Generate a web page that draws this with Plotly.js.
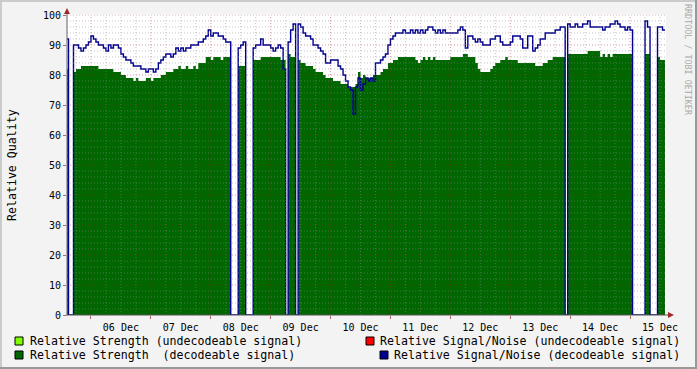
<!DOCTYPE html>
<html>
<head>
<meta charset="utf-8">
<script src="https://cdn.plot.ly/plotly-3.0.1.min.js"></script>
<style>html,body{margin:0;padding:0;background:#f3f3f3;}#chart{width:697px;height:369px;}</style>
</head>
<body>
<div id="chart"></div>
<script>
// Hourly samples starting 2007-12-05 14:00
const seriesStart = [2007, 11, 5, 14, 0];
const stepHours = 1;

// Relative Strength (decodeable signal)
const strength = [
82,0,0,81,82,82,83,83,83,83,
83,83,83,82,82,82,82,82,82,81,
81,81,80,80,79,79,79,78,79,78,
78,78,79,79,78,79,79,79,80,80,
81,81,81,82,82,83,82,82,83,82,
82,83,82,84,84,84,86,86,85,86,
86,86,85,86,86,86,0,0,0,83,
83,83,0,0,0,85,85,85,86,86,
86,86,86,86,86,86,85,85,0,87,
86,86,0,85,84,84,83,83,83,82,
81,81,81,80,79,79,79,78,78,78,
77,77,77,76,76,76,77,81,79,80,
79,79,79,80,80,80,81,82,82,84,
84,85,85,86,86,86,86,86,86,86,
85,84,85,86,85,86,85,86,85,85,
85,85,85,85,86,86,86,86,86,87,
87,86,86,86,84,82,81,81,81,81,
82,83,84,84,85,85,86,85,85,85,
85,84,84,84,84,84,84,84,83,83,
83,84,84,85,85,86,86,86,86,86,
0,87,87,87,87,87,87,87,87,88,
88,88,88,88,86,87,86,87,86,87,
87,87,87,87,87,87,87,0,0,0,
0,0,87,87,0,0,0,86,85,85,
85];

// Relative Signal/Noise (decodeable signal)
const snr = [
92,0,0,90,90,89,88,89,90,91,
93,92,91,90,90,89,88,90,89,90,
90,89,87,86,85,85,84,83,83,83,
82,82,81,82,82,81,82,84,85,86,
87,87,86,87,89,88,89,88,89,89,
90,90,90,91,91,92,93,95,93,94,
94,93,93,92,91,91,0,0,0,89,
90,91,0,0,0,89,90,90,92,90,
90,90,89,88,89,90,89,82,0,91,
95,97,0,97,96,94,93,93,92,90,
90,89,88,87,84,84,85,85,85,83,
82,80,78,76,75,67,76,79,75,77,
79,78,79,78,84,84,85,86,87,90,
92,93,94,94,94,95,94,94,95,94,
95,94,95,94,95,96,96,95,94,95,
94,95,94,94,94,94,94,95,96,95,
89,93,93,92,91,92,91,90,90,90,
92,92,93,93,91,90,90,90,91,93,
93,93,92,89,89,93,93,88,89,90,
92,92,94,94,94,94,95,95,96,96,
0,97,96,96,97,96,96,97,97,98,
96,96,96,96,96,95,96,96,97,97,
98,97,96,96,95,96,95,0,0,0,
0,0,98,96,0,0,0,96,96,95,
95];

const yTicks = [0,10,20,30,40,50,60,70,80,90,100];
const legendLabels = [
  "Relative Strength (undecodeable signal)",
  "Relative Strength\u00A0 (decodeable signal)",
  "Relative Signal/Noise (undecodeable signal)",
  "Relative Signal/Noise (decodeable signal)"
];
const legendColors = ["#80ff00", "#006600", "#ff0000", "#000090"];

function fmt(ms) {
  const d = new Date(ms);
  const p = n => String(n).padStart(2, '0');
  return d.getUTCFullYear() + '-' + p(d.getUTCMonth() + 1) + '-' + p(d.getUTCDate()) + ' ' + p(d.getUTCHours()) + ':' + p(d.getUTCMinutes());
}
const H = 3600000;
const startMs = Date.UTC.apply(null, seriesStart);
const times = strength.map((_, i) => fmt(startMs + i * stepHours * H));
const rangeStart = Date.UTC(2007, 11, 5, 14, 24);
const rangeEnd = Date.UTC(2007, 11, 15, 14, 24);

// pixel helpers (plot area 67..666 x 15..315)
const L = 67, R = 666, T = 15, B = 315;
const px = v => (v - L) / (R - L);
const py = v => (B - v) / (B - T);

const shapes = [];
const minorCol = 'rgba(140,140,140,0.5)';
const majorCol = 'rgba(150,40,40,0.45)';
const dot = '1px,2px';
for (let t = Date.UTC(2007, 11, 5, 18); t < rangeEnd; t += 6 * H) {
  const major = new Date(t).getUTCHours() === 0;
  shapes.push({type: 'line', xref: 'x', yref: 'paper', x0: fmt(t), x1: fmt(t), y0: 0, y1: 1,
    line: {color: major ? majorCol : minorCol, width: 1, dash: dot}, layer: 'above'});
}
for (let v = 2; v <= 100; v += 2) {
  const major = v % 10 === 0;
  shapes.push({type: 'line', xref: 'paper', yref: 'y', x0: 0, x1: 1, y0: v, y1: v,
    line: {color: major ? majorCol : minorCol, width: 1, dash: dot}, layer: 'above'});
}
// axis lines and arrows
shapes.push({type: 'line', xref: 'paper', yref: 'paper', x0: px(67), x1: px(67), y0: py(315), y1: py(11), line: {color: '#666', width: 1}, layer: 'above'});
shapes.push({type: 'line', xref: 'paper', yref: 'paper', x0: px(66), x1: px(670), y0: py(315), y1: py(315), line: {color: '#555', width: 1}, layer: 'above'});
shapes.push({type: 'path', xref: 'paper', yref: 'paper',
  path: `M ${px(64)} ${py(14)} L ${px(70)} ${py(14)} L ${px(67)} ${py(8)} Z`,
  fillcolor: '#a02828', line: {width: 0}, layer: 'above'});
shapes.push({type: 'path', xref: 'paper', yref: 'paper',
  path: `M ${px(668)} ${py(312)} L ${px(668)} ${py(318)} L ${px(674)} ${py(315)} Z`,
  fillcolor: '#a02828', line: {width: 0}, layer: 'above'});
// frame
shapes.push({type: 'rect', xref: 'paper', yref: 'paper', x0: px(0), x1: px(697), y0: py(0), y1: py(2), fillcolor: '#cbcbcb', line: {width: 0}});
shapes.push({type: 'rect', xref: 'paper', yref: 'paper', x0: px(0), x1: px(2), y0: py(0), y1: py(369), fillcolor: '#cbcbcb', line: {width: 0}});
shapes.push({type: 'rect', xref: 'paper', yref: 'paper', x0: px(695), x1: px(697), y0: py(0), y1: py(369), fillcolor: '#999999', line: {width: 0}});
shapes.push({type: 'rect', xref: 'paper', yref: 'paper', x0: px(0), x1: px(697), y0: py(367), y1: py(369), fillcolor: '#999999', line: {width: 0}});

// legend squares
const legendPos = [[15, 341], [15, 355], [366, 341], [380, 355]];
legendPos.forEach((p, i) => {
  shapes.push({type: 'rect', xref: 'paper', yref: 'paper', x0: px(p[0]), x1: px(p[0] + 8), y0: py(p[1] + 4), y1: py(p[1] - 4),
    fillcolor: legendColors[i], line: {color: '#000', width: 1}});
});

const mono = 'DejaVu Sans Mono';
const annotations = [
  {text: legendLabels[0], x: px(28), y: py(341), xanchor: 'left', yanchor: 'middle'},
  {text: legendLabels[1], x: px(28), y: py(355), xanchor: 'left', yanchor: 'middle'},
  {text: legendLabels[2], x: px(682), y: py(341), xanchor: 'right', yanchor: 'middle'},
  {text: legendLabels[3], x: px(682), y: py(355), xanchor: 'right', yanchor: 'middle'}
].map(a => Object.assign(a, {xref: 'paper', yref: 'paper', showarrow: false, font: {family: mono, size: 11.6, color: '#000'}}));
annotations.push({text: 'Relative Quality', xref: 'paper', yref: 'paper', x: px(12), y: py(165), xanchor: 'center', yanchor: 'middle',
  textangle: -90, showarrow: false, font: {family: mono, size: 11.6, color: '#000'}});
annotations.push({text: 'RRDTOOL / TOBI OETIKER', xref: 'paper', yref: 'paper', x: px(688), y: py(60), xanchor: 'center', yanchor: 'middle',
  textangle: 90, showarrow: false, font: {family: mono, size: 8.4, color: '#aaaaaa'}});

const traces = [
  {x: times, y: strength, type: 'scatter', mode: 'lines', name: legendLabels[1],
   line: {shape: 'hv', width: 0, color: '#006600'}, fill: 'tozeroy', fillcolor: '#006600'},
  {x: times, y: snr, type: 'scatter', mode: 'lines', name: legendLabels[3],
   line: {shape: 'hv', width: 1.4, color: '#000090'}}
];

const layout = {
  width: 697, height: 369,
  margin: {l: L, r: 697 - R, t: T, b: 369 - B, pad: 0},
  paper_bgcolor: '#f3f3f3', plot_bgcolor: '#ffffff',
  showlegend: false, hovermode: false,
  xaxis: {type: 'date', range: [fmt(rangeStart), fmt(rangeEnd)], showgrid: false, zeroline: false, showline: false,
    tickmode: 'linear', tick0: '2007-12-06', dtick: 86400000, tickformat: '%d %b', ticklabelmode: 'period',
    ticks: 'outside', ticklen: 3, tickcolor: 'rgba(150,40,40,0.7)',
    tickfont: {family: mono, size: 10, color: '#000'}},
  yaxis: {range: [0, 100], tickvals: yTicks, ticktext: yTicks.map(String), showgrid: false, zeroline: false, showline: false,
    ticks: 'outside', ticklen: 3, tickcolor: 'rgba(150,40,40,0.7)',
    tickfont: {family: mono, size: 10, color: '#000'}},
  shapes: shapes, annotations: annotations
};

Plotly.newPlot('chart', traces, layout, {staticPlot: true, displayModeBar: false});
</script>
</body>
</html>
